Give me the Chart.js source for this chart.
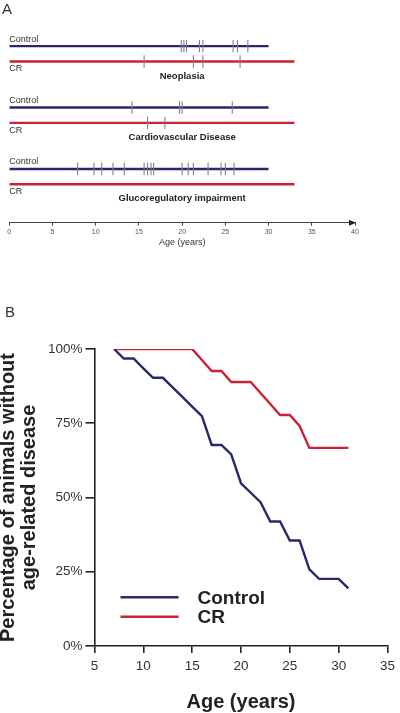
<!DOCTYPE html>
<html lang="en">
<head>
<meta charset="UTF-8" />
<meta name="viewport" content="width=device-width, initial-scale=1.0" />
<title>Age-related disease onset, Control vs CR</title>
<script src="https://cdn.jsdelivr.net/npm/chart.js"></script>
<style>
  body { margin: 0; background: #fff; width: 400px; height: 713px; overflow: hidden; }
  .panel { position: absolute; left: 0; width: 400px; }
</style>
</head>
<body>
<div class="panel" style="top:0;height:250px"><canvas id="timeline"></canvas></div>
<div class="panel" style="top:255px;height:458px"><canvas id="survival"></canvas></div>

<script>
// panel A: age at diagnosis (years)
const diseases = ["Neoplasia", "Cardiovascular Disease", "Glucoregulatory impairment"];
const controlOnset = [
  [19.9, 20.2, 20.5, 22.0, 22.4, 25.9, 26.4, 27.6],
  [14.2, 19.7, 20.0, 25.8],
  [7.9, 9.8, 10.7, 12.0, 13.3, 15.6, 16.0, 16.4, 16.7, 20.0, 20.7, 21.3, 23.0, 24.5, 25.0, 26.0]
];
const crOnset = [
  [15.6, 21.3, 22.4, 26.7],
  [16.0, 18.0],
  []
];
const controlFollowUp = 30;
const crFollowUp = 33;
const ageTicksA = [0, 5, 10, 15, 20, 25, 30, 35, 40];

// panel B: % of animals without age-related disease
const ages = [7, 8, 9, 10, 11, 12, 13, 14, 15, 16, 17, 18, 19, 20, 21, 22, 23, 24, 25, 26, 27, 28, 29, 30, 31];
const controlFree = [100, 96.8, 96.8, 93.5, 90.3, 90.3, 87.1, 83.9, 80.6, 77.4, 67.7, 67.7, 64.5, 54.8, 51.6, 48.4, 41.9, 41.9, 35.5, 35.5, 25.8, 22.6, 22.6, 22.6, 19.4];
const crFree = [100, 100, 100, 100, 100, 100, 100, 100, 100, 96.3, 92.6, 92.6, 88.9, 88.9, 88.9, 85.2, 81.5, 77.8, 77.8, 74.1, 66.7, 66.7, 66.7, 66.7, 66.7];
const ageTicksB = [5, 10, 15, 20, 25, 30, 35];
const pctTicks = [0, 25, 50, 75, 100];

const NAVY = "#262a6b";
const RED = "#cc2233";
const FONT = '"Liberation Sans", Arial, sans-serif';

Chart.defaults.font.family = FONT;
Chart.defaults.animation = false;

// row index on the hidden y scale of panel A
function rowOf(k, isCR) { return 3 + 4 * k + (isCR ? 1 : 0); }

const timelineData = [];
diseases.forEach((name, k) => {
  timelineData.push({
    type: "line", order: 2,
    data: [{ x: 0, y: rowOf(k, 0) }, { x: controlFollowUp, y: rowOf(k, 0) }],
    borderColor: NAVY, borderWidth: 2.4, pointRadius: 0
  });
  timelineData.push({
    type: "line", order: 2,
    data: [{ x: 0, y: rowOf(k, 1) }, { x: crFollowUp, y: rowOf(k, 1) }],
    borderColor: RED, borderWidth: 2.4, pointRadius: 0
  });
  timelineData.push({
    type: "scatter", order: 1,
    data: controlOnset[k].map(a => ({ x: a, y: rowOf(k, 0) })),
    pointStyle: "line", rotation: 90, radius: 6.2, borderColor: "#80808c", borderWidth: 1.1
  });
  timelineData.push({
    type: "scatter", order: 1,
    data: crOnset[k].map(a => ({ x: a, y: rowOf(k, 1) })),
    pointStyle: "line", rotation: 90, radius: 6.2, borderColor: "#80808c", borderWidth: 1.1
  });
});

const timelineLabels = {
  id: "timelineLabels",
  afterDraw(chart) {
    const { ctx, scales: { x, y } } = chart;
    ctx.save();
    ctx.fillStyle = "#333";
    ctx.font = "15px " + FONT;
    ctx.textBaseline = "alphabetic";
    ctx.fillText("A", 2, 14);
    const x0 = x.getPixelForValue(0);
    diseases.forEach((name, k) => {
      const yc = y.getPixelForValue(rowOf(k, 0));
      const yr = y.getPixelForValue(rowOf(k, 1));
      ctx.font = "9px " + FONT;
      ctx.textAlign = "left";
      ctx.textBaseline = "middle";
      ctx.fillStyle = "#333";
      ctx.fillText("Control", x0, yc - 7);
      ctx.fillText("CR", x0, yr + 7.5);
      ctx.font = "bold 9.5px " + FONT;
      ctx.textAlign = "center";
      ctx.fillStyle = "#222";
      ctx.fillText(name, x.getPixelForValue(20), yr + 14.5);
    });
    // arrow head at the end of the age axis
    const xe = x.getPixelForValue(40), ya = x.top;
    ctx.fillStyle = "#222";
    ctx.beginPath();
    ctx.moveTo(xe + 1, ya);
    ctx.lineTo(xe - 6, ya - 3);
    ctx.lineTo(xe - 6, ya + 3);
    ctx.closePath();
    ctx.fill();
    ctx.restore();
  }
};

new Chart(document.getElementById("timeline"), {
  type: "scatter",
  data: { datasets: timelineData },
  options: {
    responsive: true,
    maintainAspectRatio: false,
    layout: { autoPadding: false, padding: { left: 9.3, right: 45, top: 0, bottom: 0 } },
    plugins: { legend: { display: false }, tooltip: { enabled: false } },
    scales: {
      x: {
        type: "linear", min: 0, max: 40,
        afterBuildTicks: s => { s.ticks = ageTicksA.map(v => ({ value: v })); },
        afterFit: s => { s.height = 27.3; },
        border: { color: "#444", width: 1 },
        grid: { drawOnChartArea: false, tickLength: 3, color: "#444" },
        ticks: { font: { size: 7 }, color: "#555", padding: 2, maxRotation: 0 },
        title: { display: true, text: "Age (years)", font: { size: 9 }, color: "#333", padding: { top: 0, bottom: 2 } }
      },
      y: { display: false, min: 0, max: 14.5, reverse: true }
    }
  },
  plugins: [timelineLabels]
});

const survivalLegend = {
  id: "survivalLegend",
  afterDraw(chart) {
    const { ctx, chartArea: ca } = chart;
    ctx.save();
    chart.data.datasets.forEach((ds, i) => {
      const y = ca.bottom - 48.7 + i * 19.4;
      ctx.strokeStyle = ds.borderColor;
      ctx.lineWidth = ds.borderWidth;
      ctx.beginPath();
      ctx.moveTo(ca.left + 26, y);
      ctx.lineTo(ca.left + 84, y);
      ctx.stroke();
      ctx.fillStyle = "#222";
      ctx.font = "bold 19px " + FONT;
      ctx.textBaseline = "middle";
      ctx.fillText(ds.label, ca.left + 103, y + 1);
    });
    ctx.fillStyle = "#333";
    ctx.font = "15px " + FONT;
    ctx.textBaseline = "alphabetic";
    ctx.fillText("B", 5, 62);
    ctx.restore();
  }
};

new Chart(document.getElementById("survival"), {
  type: "line",
  data: {
    datasets: [
      { label: "Control", data: ages.map((a, i) => ({ x: a, y: controlFree[i] })), borderColor: NAVY, borderWidth: 2.4, pointRadius: 0, tension: 0 },
      { label: "CR", data: ages.map((a, i) => ({ x: a, y: crFree[i] })), borderColor: RED, borderWidth: 2.4, pointRadius: 0, tension: 0 }
    ]
  },
  options: {
    responsive: true,
    maintainAspectRatio: false,
    layout: { padding: { left: 0, right: 8, top: 94, bottom: 0 } },
    plugins: { legend: { display: false }, tooltip: { enabled: false } },
    scales: {
      x: {
        type: "linear", min: 5, max: 35,
        afterBuildTicks: s => { s.ticks = ageTicksB.map(v => ({ value: v })); },
        afterFit: s => { s.height = 67; },
        border: { color: "#222", width: 1.6 },
        grid: { drawOnChartArea: false, tickLength: 7, color: "#222", lineWidth: 1.6 },
        ticks: { font: { size: 13.5 }, color: "#333", padding: 5, maxRotation: 0 },
        title: { display: true, text: "Age (years)", font: { size: 20, weight: "bold", lineHeight: 1.1 }, color: "#222", padding: { top: 0, bottom: 0 } }
      },
      y: {
        min: 0, max: 100,
        afterBuildTicks: s => { s.ticks = pctTicks.map(v => ({ value: v })); },
        afterFit: s => { s.width = 94.5; },
        border: { color: "#222", width: 1.6 },
        grid: { drawOnChartArea: false, tickLength: 9, color: "#222", lineWidth: 1.6 },
        ticks: { font: { size: 13.5 }, color: "#333", padding: 3, callback: v => v + "%" },
        title: {
          display: true,
          text: ["Percentage of animals without", "age-related disease"],
          font: { size: 20, weight: "bold", lineHeight: 1.05 },
          color: "#222",
          padding: { top: -2, bottom: 0 }
        }
      }
    }
  },
  plugins: [survivalLegend]
});
</script>
</body>
</html>
